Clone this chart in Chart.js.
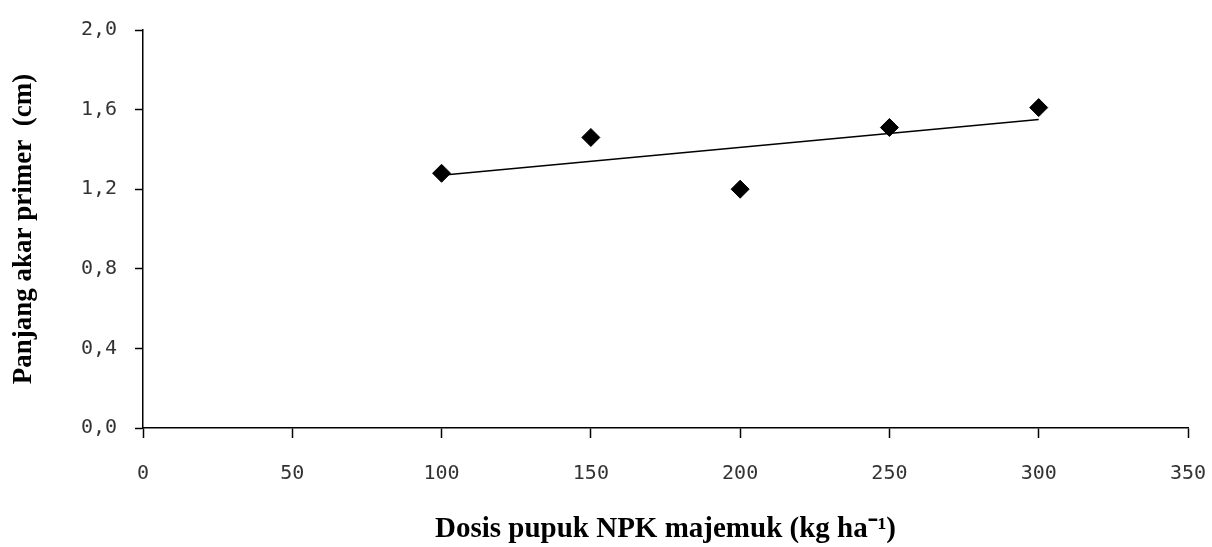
<!DOCTYPE html>
<html lang="en">
<head>
    <meta charset="UTF-8">
    <title>Panjang akar primer</title>
    <script src="https://cdn.jsdelivr.net/npm/chart.js@4.4.1/dist/chart.umd.min.js"></script>
    <style>
        body { margin: 0; background: #fff; }
        #wrap { width: 1212px; height: 547px; }
    </style>
</head>
<body>
<div id="wrap">
    <canvas id="chart" width="1212" height="547"></canvas>
</div>
<script>
    // dosis pupuk NPK (kg/ha) and panjang akar primer (cm)
    const dosis = [100, 150, 200, 250, 300];
    const panjangAkar = [1.28, 1.46, 1.20, 1.51, 1.61];
    // trend line at both ends
    const trendX = [100, 300];
    const trendY = [1.27, 1.55];

    const xTicks = [0, 50, 100, 150, 200, 250, 300, 350];
    const yTicks = [0, 0.4, 0.8, 1.2, 1.6, 2.0];

    const ctx = document.getElementById('chart').getContext('2d');
    const tickFont = { family: 'DejaVu Sans Mono', size: 20 };

    const myChart = new Chart(ctx, {
        type: 'scatter',
        data: {
            datasets: [
                {
                    label: 'Panjang akar',
                    data: dosis.map((d, i) => ({ x: d, y: panjangAkar[i] })),
                    pointStyle: 'rectRot',
                    pointRadius: 9,
                    backgroundColor: '#000',
                    borderColor: '#000',
                    borderWidth: 1
                },
                {
                    label: 'Trend',
                    type: 'line',
                    data: trendX.map((d, i) => ({ x: d, y: trendY[i] })),
                    borderColor: '#000',
                    borderWidth: 1.5,
                    pointRadius: 0,
                    fill: false
                }
            ]
        },
        options: {
            responsive: false,
            animation: false,
            layout: { padding: { left: 0, right: 24, top: 28, bottom: 0 } },
            plugins: {
                legend: { display: false },
                tooltip: { enabled: false }
            },
            scales: {
                x: {
                    type: 'linear',
                    min: 0,
                    max: 350,
                    afterBuildTicks: scale => { scale.ticks = xTicks.map(v => ({ value: v })); },
                    afterFit: scale => {
                        scale.height = 119;
                        scale.paddingLeft = 0;
                        scale.paddingRight = 0;
                    },
                    grid: { display: true, drawOnChartArea: false, drawTicks: true, tickLength: 10, tickWidth: 1.5, color: '#000', tickColor: '#000' },
                    border: { display: true, color: '#000', width: 1.5 },
                    ticks: { color: '#333', font: tickFont, padding: 24, maxRotation: 0 },
                    title: {
                        display: true,
                        text: 'Dosis pupuk NPK majemuk (kg ha\u207B\u00B9)',
                        color: '#000',
                        font: { family: 'Liberation Serif', size: 29, weight: 'bold' },
                        padding: { top: 22, bottom: 0 }
                    }
                },
                y: {
                    min: 0,
                    max: 2,
                    afterBuildTicks: scale => { scale.ticks = yTicks.map(v => ({ value: v })); },
                    afterFit: scale => { scale.width = 143; },
                    grid: { display: true, drawOnChartArea: false, drawTicks: true, tickLength: 8, tickWidth: 1.5, color: '#000', tickColor: '#000' },
                    border: { display: true, color: '#000', width: 1.5 },
                    ticks: {
                        color: '#333',
                        font: tickFont,
                        padding: 18,
                        callback: v => v.toFixed(1).replace('.', ',')
                    },
                    title: {
                        display: true,
                        text: 'Panjang akar primer  (cm)',
                        color: '#000',
                        font: { family: 'Liberation Serif', size: 27, weight: 'bold' },
                        padding: { top: 8, bottom: 0 }
                    }
                }
            }
        }
    });
</script>
</body>
</html>
